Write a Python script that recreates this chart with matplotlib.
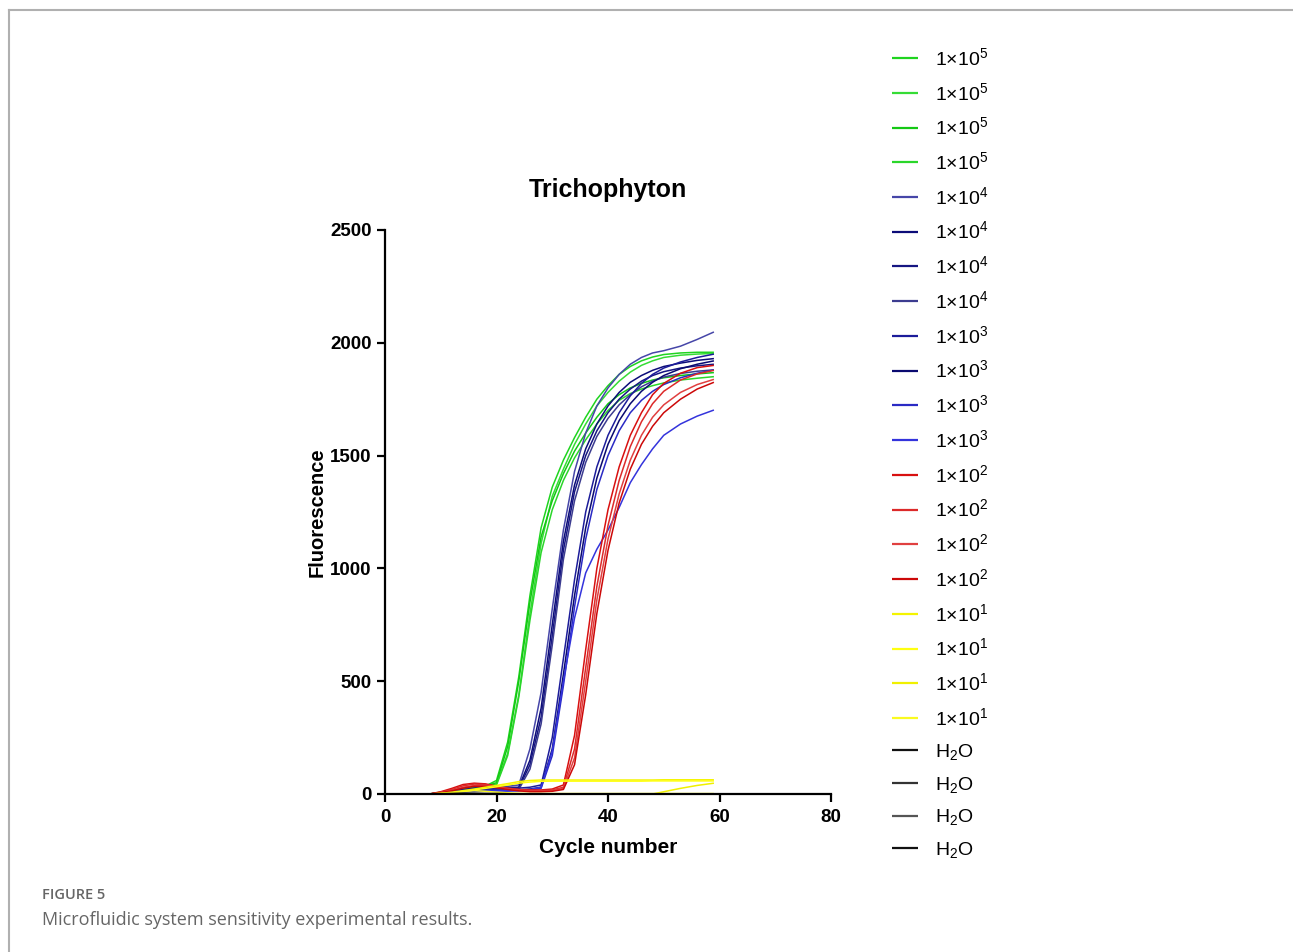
import matplotlib
matplotlib.use("Agg")
import matplotlib.pyplot as plt
from matplotlib.lines import Line2D

plt.rcParams['font.family'] = ['Liberation Sans', 'DejaVu Sans']
plt.rcParams['mathtext.fontset'] = 'custom'
plt.rcParams['mathtext.rm'] = 'Liberation Sans'
plt.rcParams['mathtext.it'] = 'Liberation Sans:italic'
plt.rcParams['mathtext.bf'] = 'Liberation Sans:bold'

# ---------------- data ----------------
TITLE = "Trichophyton"
X_LABEL = "Cycle number"
Y_LABEL = "Fluorescence"
X_TICKS = [0, 20, 40, 60, 80]
Y_TICKS = [0, 500, 1000, 1500, 2000, 2500]

cycles = [0, 8, 10, 12, 14, 16, 18, 20, 22, 24, 26, 28, 30, 32, 34, 36, 38, 40,
          42, 44, 46, 48, 50, 53, 56, 59]

labels = ['1×10$^{5}$'] * 4 + ['1×10$^{4}$'] * 4 + ['1×10$^{3}$'] * 4 + \
         ['1×10$^{2}$'] * 4 + ['1×10$^{1}$'] * 4 + ['H$_{2}$O'] * 4

colors = ['#1fd41f', '#35dc35', '#14c814', '#2ad62a',
          '#4646a8', '#0c0c78', '#161682', '#3c3c90',
          '#1c1c9a', '#0a0a70', '#2a2ac4', '#3434dc',
          '#d81010', '#dc2a2a', '#e04040', '#cc0808',
          '#f4f400', '#ffff10', '#f0f000', '#fafa20',
          '#111111', '#333333', '#555555', '#111111']

# 1x10^5
g1 = [0, 0, 8, 15, 22, 28, 35, 60, 230, 520, 880, 1180, 1360, 1480, 1580, 1670, 1750, 1810,
      1860, 1895, 1920, 1937, 1948, 1955, 1958, 1958]
g2 = [0, 0, 6, 12, 20, 26, 30, 45, 180, 440, 800, 1110, 1320, 1440, 1550, 1640, 1720, 1780,
      1830, 1870, 1900, 1920, 1935, 1945, 1950, 1953]
g3 = [0, 0, 7, 14, 24, 32, 36, 50, 210, 500, 850, 1140, 1300, 1420, 1520, 1600, 1670, 1730,
      1770, 1800, 1820, 1835, 1845, 1855, 1862, 1868]
g4 = [0, 0, 5, 10, 16, 22, 28, 40, 170, 430, 770, 1070, 1260, 1390, 1490, 1570, 1640, 1700,
      1745, 1775, 1795, 1810, 1822, 1835, 1843, 1850]
# 1x10^4
n1 = [0, 0, 5, 10, 18, 25, 30, 32, 34, 40, 200, 450, 820, 1170, 1430, 1600, 1720, 1800,
      1860, 1905, 1935, 1955, 1965, 1985, 2015, 2048]
n2 = [0, 0, 4, 9, 16, 22, 27, 28, 28, 30, 150, 380, 750, 1120, 1370, 1530, 1640, 1720,
      1780, 1825, 1855, 1878, 1895, 1910, 1922, 1930]
n3 = [0, 0, 6, 12, 20, 26, 30, 30, 27, 25, 130, 340, 700, 1080, 1340, 1500, 1610, 1690,
      1750, 1795, 1830, 1855, 1872, 1888, 1898, 1905]
n4 = [0, 0, 3, 8, 14, 20, 24, 25, 22, 20, 110, 310, 660, 1040, 1300, 1470, 1585, 1665,
      1725, 1770, 1805, 1830, 1848, 1864, 1874, 1880]
# 1x10^3
b1 = [0, 0, 4, 9, 15, 20, 24, 25, 25, 26, 30, 40, 250, 600, 950, 1250, 1450, 1590,
      1690, 1765, 1820, 1860, 1888, 1915, 1935, 1950]
b2 = [0, 0, 3, 7, 12, 16, 18, 18, 17, 18, 22, 30, 200, 530, 880, 1180, 1400, 1550,
      1655, 1730, 1785, 1825, 1855, 1885, 1905, 1920]
b3 = [0, 0, 2, 5, 9, 12, 14, 14, 13, 14, 18, 25, 170, 480, 830, 1130, 1350, 1500,
      1610, 1690, 1745, 1785, 1815, 1845, 1865, 1880]
b4 = [0, 0, 3, 6, 10, 14, 16, 16, 15, 16, 20, 30, 190, 500, 780, 980, 1085, 1170,
      1270, 1380, 1460, 1530, 1590, 1640, 1675, 1702]
# 1x10^2
r1 = [0, 0, 10, 25, 42, 48, 45, 35, 25, 20, 18, 18, 22, 40, 260, 640, 1000, 1260,
      1450, 1590, 1690, 1770, 1820, 1865, 1890, 1900]
r2 = [0, 0, 8, 20, 36, 44, 42, 34, 26, 20, 16, 15, 18, 30, 200, 560, 920, 1190,
      1390, 1540, 1650, 1730, 1785, 1835, 1862, 1878]
r3 = [0, 0, 6, 16, 30, 38, 38, 30, 22, 16, 12, 12, 15, 25, 160, 500, 860, 1130,
      1330, 1480, 1590, 1670, 1725, 1780, 1815, 1838]
r4 = [0, 0, 5, 14, 26, 34, 34, 28, 20, 14, 10, 10, 12, 20, 130, 440, 800, 1080,
      1290, 1440, 1550, 1630, 1690, 1750, 1795, 1825]
# 1x10^1
y1 = [0, 0, 3, 8, 15, 22, 30, 38, 46, 55, 60, 62, 62, 62, 62, 62, 62, 62,
      62, 62, 62, 62, 63, 63, 63, 63]
y2 = [0, 0, 2, 5, 10, 18, 25, 32, 40, 48, 53, 56, 57, 57, 57, 57, 57, 57,
      57, 57, 57, 58, 58, 58, 58, 58]
y3 = [0, 0, 0, 0, 0, 0, 0, 0, 0, 0, 0, 0, 0, 0, 0, 0, 0, 0,
      0, 0, 0, 0, 10, 25, 38, 48]
y4 = [0, 0, 2, 5, 12, 15, 12, 8, 5, 3, 2, 2, 2, 2, 2, 2, 2, 2,
      2, 2, 2, 2, 2, 2, 2, 2]
# H2O
w1 = [0, 0, 1, 2, 3, 3, 2, 2, 1, 1, 1, 1, 1, 1, 1, 1, 1, 1,
      1, 1, 1, 1, 1, 1, 1, 1]
w2 = [0, 0, 0, 1, 2, 2, 2, 1, 1, 0, 0, 0, 0, 0, 0, 0, 0, 0,
      0, 0, 0, 0, 0, 0, 0, 0]
w3 = [0, 0, 1, 1, 2, 2, 1, 1, 0, 0, 0, 0, 0, 0, 0, 0, 0, 0,
      0, 0, 0, 0, 0, 0, 0, 0]
w4 = [0, 0, 0, 0, 1, 1, 1, 0, 0, 0, 0, 0, 0, 0, 0, 0, 0, 0,
      0, 0, 0, 0, 0, 0, 0, 0]

series = [g1, g2, g3, g4, n1, n2, n3, n4, b1, b2, b3, b4,
          r1, r2, r3, r4, y1, y2, y3, y4, w1, w2, w3, w4]

CAPTION_HEAD = "FIGURE 5"
CAPTION = "Microfluidic system sensitivity experimental results."

# ---------------- figure ----------------
W, H = 1293, 952
fig = plt.figure(figsize=(W / 100, H / 100), dpi=100)
fig.patch.set_facecolor('white')

ax = fig.add_axes([385 / W, 1 - 794 / H, (831 - 385) / W, (794 - 230) / H])

for vals, col, lab in zip(series, colors, labels):
    ax.plot(cycles, vals, color=col, lw=1.1, label=lab, solid_capstyle='butt')

ax.set_xlim(0, 80)
ax.set_ylim(0, 2500)
ax.set_xticks(X_TICKS)
ax.set_yticks(Y_TICKS)
for s in ['top', 'right']:
    ax.spines[s].set_visible(False)
for s in ['left', 'bottom']:
    ax.spines[s].set_linewidth(1.6)
ax.tick_params(direction='out', length=5.5, width=1.6, labelsize=13.5, pad=4)
ax.tick_params(axis='x', pad=5)
for t in ax.get_xticklabels() + ax.get_yticklabels():
    t.set_fontweight('bold')

ax.set_title(TITLE, fontsize=18, fontweight='bold', pad=24)
ax.set_xlabel(X_LABEL, fontsize=15, fontweight='bold', labelpad=9)
ax.set_ylabel(Y_LABEL, fontsize=14.5, fontweight='bold', labelpad=3)

leg = ax.legend(loc='upper left', bbox_to_anchor=(892 / W, 1 - 47 / H),
                bbox_transform=fig.transFigure, frameon=False, fontsize=14,
                handlelength=1.34, handletextpad=0.88, labelspacing=0.66,
                borderpad=0, borderaxespad=0)
for ln in leg.get_lines():
    ln.set_linewidth(1.6)

# panel frame
fig.add_artist(Line2D([9 / W, 1.0], [1 - 10 / H, 1 - 10 / H], transform=fig.transFigure,
                      color='#b0b0b0', lw=1.5))
fig.add_artist(Line2D([9 / W, 9 / W], [0, 1 - 10 / H], transform=fig.transFigure,
                      color='#b0b0b0', lw=1.5))

fig.text(42 / W, 1 - 895 / H, CAPTION_HEAD, fontsize=10.5, color='#666666',
         family=['Open Sans', 'DejaVu Sans'], fontweight='semibold', va='center')
fig.text(42 / W, 1 - 920 / H, CAPTION, fontsize=13, color='#666666',
         family=['Open Sans', 'DejaVu Sans'], va='center')

fig.savefig('out.png', dpi=100)
